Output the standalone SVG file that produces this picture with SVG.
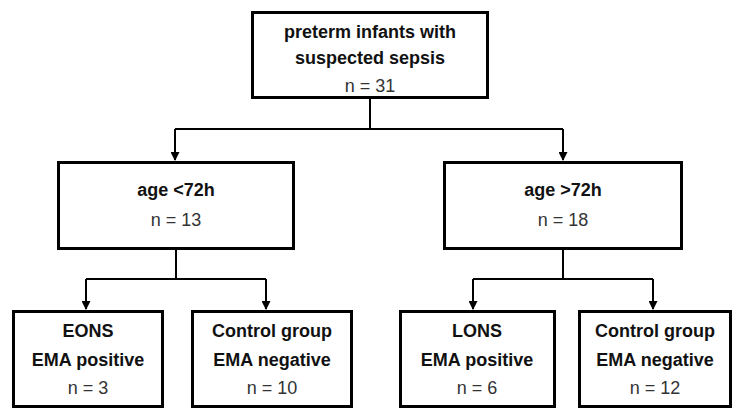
<svg xmlns="http://www.w3.org/2000/svg" width="742" height="418" viewBox="0 0 742 418">
<style>
.box{fill:#fff;stroke:#000;stroke-width:3}
.b{font-family:"Liberation Sans",Arial,sans-serif;font-size:18px;font-weight:bold;fill:#111;text-anchor:middle}
.r{font-family:"Liberation Sans",Arial,sans-serif;font-size:18px;fill:#333;text-anchor:middle}
.c{fill:none;stroke:#000;stroke-width:2}
</style>
<defs>
<marker id="ah" markerWidth="10" markerHeight="9" refX="9" refY="5" orient="auto" markerUnits="userSpaceOnUse" viewBox="0 0 10 10">
<path d="M0,0 L10,5 L0,10 Z" fill="#000"/>
</marker>
</defs>
<rect width="742" height="418" fill="#fff"/>
<g id="connectors">
<path class="c" d="M370,99 V129"/>
<path class="c" d="M175,129 H563"/>
<path class="c" d="M175,129 V160" marker-end="url(#ah)"/>
<path class="c" d="M563,129 V160" marker-end="url(#ah)"/>
<path class="c" d="M176,250 V279 M86,279 H266"/>
<path class="c" d="M86,279 V309" marker-end="url(#ah)"/>
<path class="c" d="M266,279 V309" marker-end="url(#ah)"/>
<path class="c" d="M563,250 V279 M473,279 H653"/>
<path class="c" d="M473,279 V309" marker-end="url(#ah)"/>
<path class="c" d="M653,279 V309" marker-end="url(#ah)"/>
</g>
<g id="root">
<rect class="box" x="252.5" y="12.5" width="235" height="85"/>
<text class="b" x="370" y="38">preterm infants with</text>
<text class="b" x="370" y="64">suspected sepsis</text>
<text class="r" x="370" y="92">n = 31</text>
</g>
<g id="early">
<rect class="box" x="58.5" y="162.5" width="235" height="86"/>
<text class="b" x="176" y="196">age &lt;72h</text>
<text class="r" x="176" y="226">n = 13</text>
</g>
<g id="late">
<rect class="box" x="444.5" y="162.5" width="237" height="86"/>
<text class="b" x="563" y="196">age &gt;72h</text>
<text class="r" x="563" y="226">n = 18</text>
</g>
<g id="eons">
<rect class="box" x="13.5" y="311.5" width="149" height="95"/>
<text class="b" x="88" y="337">EONS</text>
<text class="b" x="88" y="366">EMA positive</text>
<text class="r" x="88" y="394">n = 3</text>
</g>
<g id="control-early">
<rect class="box" x="192.5" y="311.5" width="159" height="95"/>
<text class="b" x="272" y="337">Control group</text>
<text class="b" x="272" y="366">EMA negative</text>
<text class="r" x="272" y="394">n = 10</text>
</g>
<g id="lons">
<rect class="box" x="400.5" y="311.5" width="154" height="95"/>
<text class="b" x="477" y="337">LONS</text>
<text class="b" x="477" y="366">EMA positive</text>
<text class="r" x="477" y="394">n = 6</text>
</g>
<g id="control-late">
<rect class="box" x="579.5" y="311.5" width="151" height="95"/>
<text class="b" x="655" y="337">Control group</text>
<text class="b" x="655" y="366">EMA negative</text>
<text class="r" x="655" y="394">n = 12</text>
</g>
</svg>
